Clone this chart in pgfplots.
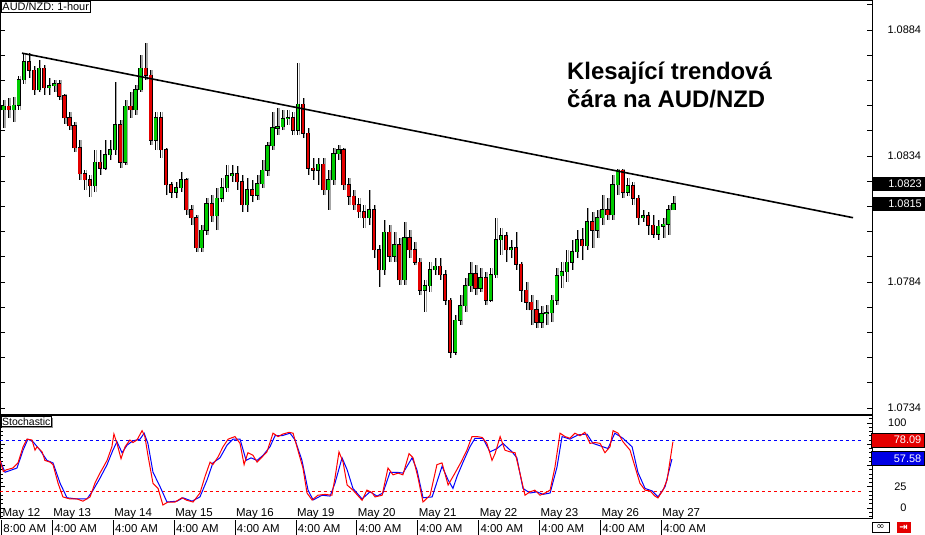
\documentclass[border=0pt]{standalone}
\usepackage{fontspec}
\setmainfont{Liberation Sans}
\newfontfamily\dejavu{DejaVu Sans}
\usepackage{pgfplots}
\usepackage{pgfplotstable}
\pgfplotsset{compat=1.18}
\usetikzlibrary{shadows}

\definecolor{bull}{RGB}{0,204,0}
\definecolor{bear}{RGB}{228,0,0}
\definecolor{kline}{RGB}{255,0,0}
\definecolor{dline}{RGB}{0,0,255}

% t = trading hours since May 12 8:00 AM, two-hour candles
\pgfplotstableread{
t o h l c
1 1.08523 1.08562 1.08451 1.08538
3 1.08538 1.08570 1.08491 1.08523
5 1.08523 1.08574 1.08476 1.08542
7 1.08542 1.08657 1.08523 1.08642
9 1.08642 1.08749 1.08626 1.08713
11 1.08713 1.08749 1.08650 1.08681
13 1.08681 1.08697 1.08582 1.08602
15 1.08602 1.08721 1.08594 1.08689
17 1.08689 1.08701 1.08582 1.08610
19 1.08610 1.08650 1.08582 1.08618
21 1.08618 1.08642 1.08594 1.08626
23 1.08626 1.08642 1.08562 1.08578
25 1.08578 1.08586 1.08468 1.08491
27 1.08491 1.08515 1.08443 1.08459
29 1.08459 1.08476 1.08356 1.08372
31 1.08372 1.08403 1.08245 1.08269
33 1.08269 1.08284 1.08205 1.08245
35 1.08245 1.08265 1.08177 1.08221
37 1.08221 1.08364 1.08197 1.08316
39 1.08316 1.08364 1.08265 1.08292
41 1.08292 1.08403 1.08284 1.08344
43 1.08344 1.08403 1.08324 1.08364
45 1.08364 1.08634 1.08344 1.08464
47 1.08464 1.08484 1.08292 1.08316
49 1.08316 1.08562 1.08304 1.08538
51 1.08538 1.08594 1.08491 1.08523
53 1.08523 1.08622 1.08503 1.08602
55 1.08602 1.08741 1.08594 1.08689
57 1.08689 1.08788 1.08642 1.08661
59 1.08661 1.08681 1.08384 1.08403
61 1.08403 1.08515 1.08364 1.08491
63 1.08491 1.08515 1.08332 1.08364
65 1.08364 1.08372 1.08185 1.08225
67 1.08225 1.08237 1.08173 1.08197
69 1.08197 1.08237 1.08173 1.08213
71 1.08213 1.08276 1.08197 1.08245
73 1.08245 1.08253 1.08106 1.08126
75 1.08126 1.08146 1.08066 1.08094
77 1.08094 1.08106 1.07959 1.07975
79 1.07975 1.08066 1.07959 1.08046
81 1.08046 1.08173 1.08027 1.08150
83 1.08150 1.08185 1.08078 1.08102
85 1.08102 1.08213 1.08046 1.08173
87 1.08173 1.08253 1.08157 1.08213
89 1.08213 1.08304 1.08197 1.08261
91 1.08261 1.08304 1.08237 1.08269
93 1.08269 1.08300 1.08205 1.08237
95 1.08237 1.08265 1.08118 1.08146
97 1.08146 1.08253 1.08118 1.08205
99 1.08205 1.08245 1.08157 1.08185
101 1.08185 1.08265 1.08165 1.08229
103 1.08229 1.08324 1.08213 1.08284
105 1.08284 1.08396 1.08261 1.08380
107 1.08380 1.08515 1.08364 1.08451
109 1.08451 1.08530 1.08423 1.08455
111 1.08455 1.08523 1.08443 1.08488
113 1.08488 1.08523 1.08464 1.08491
115 1.08491 1.08515 1.08423 1.08443
117 1.08443 1.08709 1.08423 1.08546
119 1.08546 1.08570 1.08411 1.08431
121 1.08431 1.08451 1.08265 1.08292
123 1.08292 1.08332 1.08245 1.08284
125 1.08284 1.08332 1.08225 1.08308
127 1.08308 1.08332 1.08185 1.08205
129 1.08205 1.08284 1.08126 1.08245
131 1.08245 1.08372 1.08225 1.08348
133 1.08348 1.08384 1.08324 1.08364
135 1.08364 1.08372 1.08205 1.08225
137 1.08225 1.08253 1.08146 1.08181
139 1.08181 1.08205 1.08126 1.08146
141 1.08146 1.08173 1.08094 1.08118
143 1.08118 1.08146 1.08054 1.08094
145 1.08094 1.08205 1.08066 1.08126
147 1.08126 1.08146 1.07935 1.07967
149 1.07967 1.07987 1.07820 1.07888
151 1.07888 1.08086 1.07868 1.08038
153 1.08038 1.08066 1.07919 1.07943
155 1.07943 1.08038 1.07919 1.07987
157 1.07987 1.08015 1.07828 1.07848
159 1.07848 1.08078 1.07828 1.08015
161 1.08015 1.08046 1.07935 1.07967
163 1.07967 1.07999 1.07907 1.07919
165 1.07919 1.07935 1.07788 1.07808
167 1.07808 1.07848 1.07721 1.07824
169 1.07824 1.07919 1.07800 1.07888
171 1.07888 1.07935 1.07868 1.07903
173 1.07903 1.07935 1.07848 1.07868
175 1.07868 1.07888 1.07749 1.07768
177 1.07768 1.07776 1.07538 1.07562
179 1.07562 1.07709 1.07550 1.07689
181 1.07689 1.07788 1.07669 1.07745
183 1.07745 1.07856 1.07721 1.07824
185 1.07824 1.07919 1.07800 1.07872
187 1.07872 1.07907 1.07788 1.07816
189 1.07816 1.07896 1.07800 1.07856
191 1.07856 1.07880 1.07749 1.07768
193 1.07768 1.07896 1.07760 1.07868
195 1.07868 1.08094 1.07856 1.08007
197 1.08007 1.08054 1.07947 1.08023
199 1.08023 1.08038 1.07919 1.07967
201 1.07967 1.08007 1.07935 1.07975
203 1.07975 1.08038 1.07888 1.07911
205 1.07911 1.07919 1.07760 1.07808
207 1.07808 1.07840 1.07729 1.07760
209 1.07760 1.07788 1.07669 1.07729
211 1.07729 1.07768 1.07657 1.07681
213 1.07681 1.07745 1.07657 1.07713
215 1.07713 1.07749 1.07669 1.07717
217 1.07717 1.07788 1.07681 1.07768
219 1.07768 1.07896 1.07749 1.07864
221 1.07864 1.07919 1.07816 1.07880
223 1.07880 1.07967 1.07840 1.07919
225 1.07919 1.08007 1.07888 1.07959
227 1.07959 1.08046 1.07935 1.08007
229 1.08007 1.08054 1.07927 1.07983
231 1.07983 1.08134 1.07967 1.08078
233 1.08078 1.08118 1.07975 1.08046
235 1.08046 1.08126 1.08015 1.08094
237 1.08094 1.08185 1.08066 1.08126
239 1.08126 1.08173 1.08086 1.08106
241 1.08106 1.08265 1.08086 1.08225
243 1.08225 1.08290 1.08185 1.08284
245 1.08284 1.08290 1.08173 1.08197
247 1.08197 1.08253 1.08181 1.08221
249 1.08221 1.08237 1.08146 1.08173
251 1.08173 1.08185 1.08066 1.08094
253 1.08094 1.08126 1.08078 1.08102
255 1.08102 1.08118 1.08027 1.08066
257 1.08066 1.08106 1.08015 1.08030
259 1.08030 1.08086 1.08007 1.08062
261 1.08062 1.08094 1.08015 1.08070
263 1.08070 1.08146 1.08027 1.08126
265 1.08126 1.08181 1.08126 1.08150
}\candles

% stochastic %K (red)
\pgfplotstableread{
t v
-0.4 56
0.9 43
2.2 45
4.7 47
6.7 53
8.7 72
10.2 81
12.2 80
13.4 68
14.2 72
16.2 66
17.3 56
19.3 54
20.5 51
22.5 29
24.4 13
27.2 10.6
30.0 10.6
32.3 8
35.1 13
37.0 29
39.0 41
41.8 56
43.7 72
44.5 87
45.7 76
47.3 58
48.9 72
50.8 80
52.0 77
53.6 80
55.6 91
56.7 84
57.9 62
59.9 29
61.9 23
63.8 3.5
65.8 7
68.6 7
71.3 12
73.3 9
75.7 7
78.4 17.6
80.4 37
82.4 54
83.5 51
85.5 60
87.5 72
89.5 81
92.2 84
94.2 76
95.8 51
97.3 65
99.3 62
100.9 54
102.9 60
104.8 66
107.2 88
109.2 84
111.1 87
113.5 89
115.1 88
117.0 68
119.0 47
120.6 17.6
122.6 9.4
124.9 15
127.7 16
130.4 15
131.6 35
133.2 66
134.8 54
136.4 27
138.7 21
142.3 9
144.2 21
146.2 18
147.4 13
150.2 15
152.5 47
154.5 39
156.5 41
158.4 39
160.8 64
162.4 59
164.3 36
166.3 7
169.1 15
171.8 51
173.8 53
176.2 27
178.9 41
181.3 54
183.6 68
185.6 84
187.6 84
189.6 83
191.5 76
193.5 56
194.7 64
196.7 84
198.6 68
200.6 66
202.6 65
204.5 41
206.5 15
208.5 19
210.4 21
212.4 15
214.4 17.6
216.4 21
218.3 48
220.3 88
222.3 84
224.2 82
226.2 88
228.2 85
230.1 89
232.1 76
234.1 77
236.1 76
238.0 65
240.0 72
241.2 91
243.2 88
245.1 78
247.9 68
249.9 48
251.8 29
253.8 21
255.8 20
257.7 14
258.9 11.8
260.9 21
262.5 33
264.8 78.09
}\stochK

% stochastic %D (blue)
\pgfplotstableread{
t v
-0.4 56
1.6 42
6.3 47
8.7 68
10.6 81
12.6 78
15.4 68
18.1 56
20.5 53
23.3 29
26.0 12
30.0 10.6
33.9 10.6
36.3 21
39.0 35
41.8 51
44.1 68
45.7 78
47.7 65
49.7 74
52.0 79
54.8 81
56.4 88
57.9 76
59.9 42
62.7 25
65.4 7
69.4 8
71.7 12
75.3 8
78.4 13
81.2 33
83.5 53
86.3 59
89.1 74
91.4 81
94.2 81
96.6 56
98.5 59
100.9 56
103.3 62
106.0 72
108.0 85
110.7 85
113.9 88
115.9 80
118.6 56
121.0 21
123.0 9.4
126.5 15
129.7 14
131.6 29
134.4 59
136.4 45
138.7 23
142.3 10.6
145.4 19
148.2 14
150.5 17.6
153.3 42
156.1 42
158.4 41
162.0 59
163.9 45
166.3 12
169.9 13
173.8 49
176.2 33
178.1 23
179.7 37
182.1 54
184.8 72
186.8 82
189.9 82
192.7 66
195.5 70
197.8 76
201.4 66
203.3 59
205.7 23
208.5 17.6
211.2 19
213.6 16
216.4 17.6
219.1 48
221.1 84
224.2 81
227.4 86
230.9 87
233.3 76
237.2 72
239.2 70
241.9 88
245.1 82
248.7 72
251.0 42
253.8 23
256.6 20
258.9 13
261.7 25
264.4 57.58
}\stochD

\pgfplotsset{
  % #1 = line width, #2 = colour of the vertical bar
  candlebar/.style 2 args={draw=none, no markers, forget plot,
    error bars/.cd, y dir=plus, y explicit, error mark=none,
    error bar style={line width=#1, draw=#2, solid}},
  panel/.style={scale only axis, width=872bp,
    xmin=-0.394, xmax=343.25,
    axis line style={line width=0.8bp},
    tick align=inside, tick style={black, line width=0.6bp},
    yticklabel pos=right,
    yticklabel style={/pgf/number format/assume math mode=true,
      font=\fontsize{11}{12}\selectfont},
  },
}

\begin{document}
\begin{tikzpicture}
\useasboundingbox (0,0) rectangle (925bp,535bp);

% price panel
\begin{axis}[panel,
  at={(0bp,121bp)}, anchor=south west, height=414bp,
  ymin=1.07316, ymax=1.08959,
  xtick=\empty,
  ytick={1.0734,1.0784,1.0834,1.0884},
  minor ytick={1.0744,1.0754,1.0764,1.0774,1.0794,1.0804,1.0814,1.0824,1.0844,1.0854,1.0864,1.0874,1.0894},
  major tick length=5bp, minor tick length=5bp,
  scaled y ticks=false,
  yticklabel style={/pgf/number format/fixed, /pgf/number format/fixed zerofill,
    /pgf/number format/precision=4, anchor=west, xshift=12bp},
]
\addplot[candlebar={1.5bp}{black!35}] table[x expr=\thisrow{t}+0.6, y=l,
  y error plus expr={\thisrow{h}-\thisrow{l}}] {\candles};
\addplot[candlebar={0.8bp}{black}] table[x=t, y=l,
  y error plus expr={\thisrow{h}-\thisrow{l}}] {\candles};
\addplot[candlebar={4.2bp}{black}] table[x=t,
  y expr={min(\thisrow{o},\thisrow{c})-0.00002},
  y error plus expr={abs(\thisrow{c}-\thisrow{o})+0.00004}] {\candles};
\addplot[candlebar={2.6bp}{bull}] table[x=t,
  y expr={\thisrow{c}>=\thisrow{o} ? \thisrow{o} : nan},
  y error plus expr={\thisrow{c}-\thisrow{o}}] {\candles};
\addplot[candlebar={2.6bp}{bear}] table[x=t,
  y expr={\thisrow{c}<\thisrow{o} ? \thisrow{c} : nan},
  y error plus expr={\thisrow{o}-\thisrow{c}}] {\candles};
% descending trend line
\addplot[black, line width=1.6bp] coordinates {(8.28,1.08748) (335.8,1.08095)};
\end{axis}

% stochastic panel
\begin{axis}[panel,
  at={(0bp,17bp)}, anchor=south west, height=103bp,
  ymin=-11.8, ymax=109.4,
  ytick={0,25,50,75,100},
  yticklabels={0,25,,,100},
  minor ytick={-10,-5,...,105},
  major tick length=5bp, minor tick length=3bp,
  yticklabel style={anchor=east, xshift=38bp},
  xtick={0,20,44,68,92,116,140,164,188,212,236,260},
  xticklabels={May 12,May 13,May 14,May 15,May 16,May 19,May 20,May 21,May 22,May 23,May 26,May 27},
  xticklabel style={anchor=base west, inner xsep=0pt, xshift=1.5bp, yshift=1.5bp,
    font=\fontsize{11.5}{13}\selectfont},
  xtick style={draw=none},
  extra x ticks={0,20,44,68,92,116,140,164,188,212,236,260},
  extra x tick labels={8:00 AM,4:00 AM,4:00 AM,4:00 AM,4:00 AM,4:00 AM,4:00 AM,4:00 AM,4:00 AM,4:00 AM,4:00 AM,4:00 AM},
  extra x tick style={xtick style={draw=none},
    xticklabel style={anchor=base west, inner xsep=0pt, xshift=-1.5bp, yshift=-16bp,
      execute at begin node={\rule[-3bp]{0.8bp}{16bp}\hspace{1.5bp}}}},
]
\addplot[dline, dash pattern=on 3bp off 3bp, line width=0.9bp] coordinates {(-0.4,80) (339,80)};
\addplot[kline, dash pattern=on 3bp off 3bp, line width=0.9bp] coordinates {(-0.4,20) (339,20)};
\addplot[dline, line width=1bp] table[x=t, y=v] {\stochD};
\addplot[kline, line width=1bp] table[x=t, y=v] {\stochK};
\end{axis}

% labels
\node[anchor=north west, draw=black, fill=white, inner sep=1.3bp,
  font=\fontsize{11}{12}\selectfont,
  drop shadow={shadow xshift=1.2bp, shadow yshift=-1.2bp, fill=black!45, opacity=1}]
  at (1bp,534bp) {AUD/NZD: 1-hour};
\node[anchor=north west, draw=black, fill=white, inner sep=1bp,
  font=\fontsize{10.5}{12}\selectfont,
  drop shadow={shadow xshift=1.2bp, shadow yshift=-1.2bp, fill=black!45, opacity=1}]
  at (1bp,118.5bp) {Stochastic};

\node[anchor=base west, font=\bfseries\fontsize{24}{28}\selectfont, inner sep=0pt]
  at (567bp,455.7bp) {Klesající trendová};
\node[anchor=base west, font=\bfseries\fontsize{24}{28}\selectfont, inner sep=0pt]
  at (567bp,427.7bp) {čára na AUD/NZD};

\tikzset{valbox/.style={anchor=east, minimum height=14bp, text width=47bp, align=right,
  inner xsep=3bp, inner ysep=0pt, text=white, font=\fontsize{11}{12}\selectfont}}
\node[valbox, fill=black] at (925bp,351bp) {1.0823};
\node[valbox, fill=black] at (925bp,331bp) {1.0815};
\node[valbox, fill=bear, draw=black, line width=0.5bp] at (924.5bp,95bp) {78.09};
\node[valbox, fill=dline!90!black, draw=black, line width=0.5bp] at (924.5bp,76.5bp) {57.58};

\node[draw=black, fill=white, minimum width=17bp, minimum height=10bp, inner sep=0pt,
  font=\dejavu\fontsize{10}{10}\selectfont] at (880.5bp,7.5bp) {∞};
\node[fill=bear, text=white, minimum width=14bp, minimum height=11bp, inner sep=0pt,
  font=\dejavu\bfseries\fontsize{10}{10}\selectfont] at (903.5bp,7.5bp) {⇥};
\end{tikzpicture}
\end{document}
